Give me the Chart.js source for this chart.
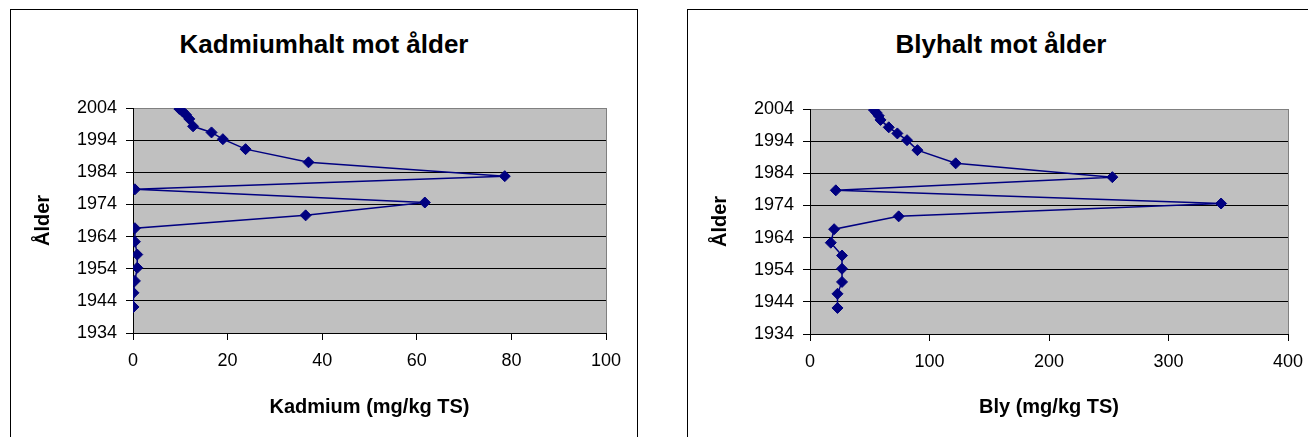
<!DOCTYPE html>
<html>
<head>
<meta charset="utf-8">
<script src="https://cdn.jsdelivr.net/npm/chart.js@4"></script>
<style>
  html, body { margin: 0; padding: 0; background: #fff; }
  body { width: 1308px; height: 437px; overflow: hidden; position: relative; font-family: "Liberation Sans", Arial, sans-serif; }
  .frame { position: absolute; top: 9px; width: 628px; height: 440px; border: 1px solid #000; box-sizing: border-box; }
  .title { position: absolute; top: 29px; width: 628px; text-align: center; font-weight: bold; font-size: 26px; line-height: 30px; color: #000; }
  canvas { position: absolute; }
</style>
</head>
<body>
<div class="frame" style="left:10px"></div>
<div class="frame" style="left:687px; width:640px"></div>
<div class="title" style="left:10px">Kadmiumhalt mot ålder</div>
<div class="title" style="left:687px">Blyhalt mot ålder</div>
<canvas id="cd" width="626" height="427" style="left:11px; top:10px"></canvas>
<canvas id="pb" width="628" height="427" style="left:688px; top:10px"></canvas>
<script>
// sample ages (år), same for both series
const years = [2003.7, 2002.9, 2001.9, 2000.6, 1998.3, 1996.4, 1994.3, 1991.2, 1987.1, 1982.8,
  1978.7, 1974.6, 1970.6, 1966.6, 1962.4, 1958.4, 1954.3, 1950.2, 1946.5, 1942.1]
// Kadmium (mg/kg TS)
const kadmium = [9.8, 10.5, 11.2, 11.9, 12.7, 16.6, 19.0, 23.8, 37.1, 78.6,
  0.4, 61.7, 36.5, 0.4, 0.4, 0.9, 0.9, 0.4, 0.1, 0.1]
// Bly (mg/kg TS)
const bly = [53.5, 55.5, 57.5, 59.0, 65.9, 73.1, 81.2, 89.9, 121.9, 253.0,
  21.6, 344.0, 74.2, 20.2, 17.4, 26.8, 26.8, 26.8, 23.0, 23.0]
// tick labels
const yearTicks = [1934, 1944, 1954, 1964, 1974, 1984, 1994, 2004]
const kadmiumTicks = [0, 20, 40, 60, 80, 100]
const blyTicks = [0, 100, 200, 300, 400]

const NAVY = '#000080'
const FONT = '"Liberation Sans", Arial, sans-serif'

// grey plot area like the old Excel charts
const plotBg = {
  id: 'plotBg',
  beforeDraw(chart) {
    const { ctx, chartArea: a } = chart
    ctx.save()
    ctx.fillStyle = '#c0c0c0'
    ctx.fillRect(a.left, a.top, a.right - a.left, a.bottom - a.top)
    ctx.strokeStyle = '#808080'
    ctx.lineWidth = 1
    ctx.strokeRect(Math.round(a.left) + 0.5, Math.round(a.top) + 0.5, Math.round(a.right - a.left), Math.round(a.bottom - a.top))
    ctx.restore()
  }
}

function makeChart(id, values, xTicks, xTitle, box) {
  const points = values.map((v, i) => ({ x: v, y: years[i] }))
  return new Chart(document.getElementById(id), {
    type: 'scatter',
    data: {
      datasets: [{
        data: points,
        showLine: true,
        borderColor: NAVY,
        borderWidth: 1.5,
        backgroundColor: NAVY,
        pointStyle: 'rectRot',
        pointRadius: 5.5,
        pointBorderWidth: 1,
        pointBorderColor: NAVY
      }]
    },
    options: {
      responsive: false,
      animation: false,
      devicePixelRatio: 1,
      layout: { padding: { left: 0, top: box.top, right: box.right, bottom: 0 } },
      plugins: { legend: { display: false }, title: { display: false }, tooltip: { enabled: false } },
      scales: {
        x: {
          type: 'linear',
          min: xTicks[0],
          max: xTicks[xTicks.length - 1],
          afterBuildTicks: s => { s.ticks = xTicks.map(v => ({ value: v })) },
          afterFit: s => { s.height = box.xHeight },
          grid: { drawOnChartArea: false, drawTicks: true, tickLength: 7, tickColor: '#000' },
          border: { color: '#000', width: 1 },
          ticks: { color: '#000', padding: 10, font: { family: FONT, size: 18 }, maxRotation: 0, callback: v => String(v) },
          title: { display: true, text: xTitle, color: '#000', padding: { top: 0, bottom: 18 }, font: { family: FONT, size: 20, weight: 'bold' } }
        },
        y: {
          type: 'linear',
          min: yearTicks[0],
          max: yearTicks[yearTicks.length - 1],
          afterBuildTicks: s => { s.ticks = yearTicks.map(v => ({ value: v })) },
          afterFit: s => { s.width = 122 },
          grid: {
            color: c => (c.tick && c.tick.value === 2004 ? '#808080' : '#000'),
            lineWidth: 1, drawTicks: true, tickLength: 7, tickColor: '#000'
          },
          border: { color: '#000', width: 1 },
          ticks: { color: '#000', padding: 9, font: { family: FONT, size: 18 }, callback: v => String(v) },
          title: { display: true, text: 'Ålder', color: '#000', padding: { top: 20, bottom: 0 }, font: { family: FONT, size: 20, weight: 'bold' } }
        }
      }
    },
    plugins: [plotBg]
  })
}

makeChart('cd', kadmium, kadmiumTicks, 'Kadmium (mg/kg TS)', { top: 98, right: 626 - 595, xHeight: 427 - 323 })
makeChart('pb', bly, blyTicks, 'Bly (mg/kg TS)', { top: 99, right: 628 - 600, xHeight: 427 - 324 })
</script>
</body>
</html>
